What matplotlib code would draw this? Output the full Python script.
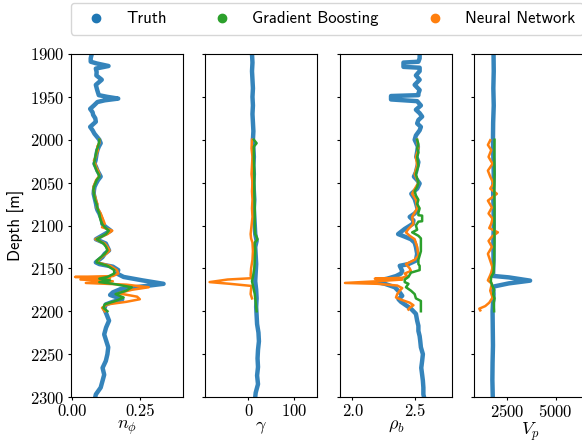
import matplotlib
matplotlib.use("Agg")
import matplotlib.pyplot as plt
from matplotlib.lines import Line2D
import numpy as np

plt.rcParams['mathtext.fontset'] = 'cm'
plt.rcParams['font.family'] = 'cmr10'
plt.rcParams['axes.formatter.use_mathtext'] = True
plt.rcParams['axes.unicode_minus'] = False

# ---- data ----
series_names = ['Truth', 'Gradient Boosting', 'Neural Network']
xlabels = [r'$n_\phi$', r'$\gamma$', r'$\rho_b$', r'$V_p$']
xticks = [[0.0, 0.25], [0, 100], [2.0, 2.5], [2500, 5000]]
xlims = [(-0.005, 0.41), (-94, 149), (1.9, 2.8), (820, 6550)]
depth_ticks = [1900, 1950, 2000, 2050, 2100, 2150, 2200, 2250, 2300]

# porosity n_phi
nphi_true_depth = [1900, 1905, 1909, 1911, 1914, 1917, 1921, 1925, 1930, 1936, 1942, 1948, 1950, 1952,
                   1954, 1956, 1960, 1964, 1968, 1971, 1975, 1979, 1985, 1989, 1993, 2000, 2004, 2008,
                   2012, 2016, 2020, 2024, 2028, 2032, 2036, 2040, 2043, 2047, 2051, 2055, 2059, 2063,
                   2067, 2071, 2075, 2079, 2082, 2086, 2090, 2094, 2098, 2102, 2106, 2110, 2116, 2121,
                   2125, 2129, 2133, 2137, 2141, 2143, 2145, 2148, 2152, 2156, 2160, 2164, 2168, 2171,
                   2174, 2178, 2181, 2186, 2189, 2192, 2197, 2203, 2211, 2219, 2227, 2235, 2242, 2250,
                   2258, 2266, 2274, 2281, 2289, 2297, 2300]
nphi_true = [0.072, 0.068, 0.068, 0.09, 0.134, 0.087, 0.09, 0.089, 0.109, 0.087, 0.092, 0.098, 0.13, 0.17,
             0.12, 0.093, 0.08, 0.066, 0.075, 0.077, 0.085, 0.087, 0.066, 0.075, 0.082, 0.100, 0.105, 0.098,
             0.093, 0.09, 0.088, 0.086, 0.082, 0.088, 0.093, 0.1, 0.105, 0.095, 0.088, 0.082, 0.08, 0.079,
             0.082, 0.085, 0.088, 0.09, 0.093, 0.1, 0.105, 0.11, 0.111, 0.125, 0.142, 0.12, 0.087, 0.124,
             0.13, 0.136, 0.12, 0.111, 0.095, 0.087, 0.10, 0.15, 0.17, 0.165, 0.19, 0.26, 0.338, 0.26,
             0.18, 0.15, 0.14, 0.185, 0.15, 0.124, 0.118, 0.126, 0.136, 0.125, 0.118, 0.126, 0.133, 0.13,
             0.124, 0.112, 0.118, 0.112, 0.105, 0.087, 0.085]
nphi_gb_depth = [2000, 2004, 2008, 2012, 2016, 2020, 2024, 2028, 2032, 2036, 2040, 2043, 2047, 2051, 2055,
                 2059, 2063, 2067, 2071, 2075, 2079, 2082, 2086, 2090, 2094, 2098, 2102, 2106, 2110, 2116,
                 2121, 2125, 2129, 2133, 2137, 2141, 2143, 2147, 2152, 2156, 2160, 2162, 2164, 2166, 2168,
                 2172, 2176, 2180, 2184, 2188, 2192, 2196, 2200]
nphi_gb = [0.10, 0.098, 0.095, 0.09, 0.088, 0.085, 0.083, 0.08, 0.085, 0.09, 0.097, 0.1, 0.09, 0.085, 0.08,
           0.078, 0.08, 0.082, 0.085, 0.09, 0.092, 0.095, 0.1, 0.102, 0.105, 0.11, 0.12, 0.135, 0.125, 0.09,
           0.115, 0.125, 0.13, 0.12, 0.105, 0.09, 0.09, 0.13, 0.155, 0.155, 0.13, 0.10, 0.14, 0.10, 0.15,
           0.22, 0.2, 0.16, 0.19, 0.16, 0.12, 0.115, 0.13]
nphi_nn_depth = [2000, 2004, 2008, 2012, 2016, 2020, 2024, 2028, 2032, 2036, 2040, 2043, 2047, 2051, 2055,
                 2059, 2063, 2067, 2071, 2075, 2079, 2082, 2086, 2090, 2094, 2098, 2102, 2106, 2110, 2116,
                 2121, 2125, 2129, 2133, 2137, 2141, 2143, 2147, 2152, 2156, 2159, 2160, 2161, 2163, 2165,
                 2167, 2169, 2172, 2175, 2179, 2183, 2186, 2189, 2192, 2196, 2200]
nphi_nn = [0.10, 0.1, 0.092, 0.095, 0.09, 0.087, 0.08, 0.085, 0.088, 0.095, 0.1, 0.098, 0.088, 0.083, 0.078,
           0.08, 0.08, 0.085, 0.088, 0.093, 0.09, 0.098, 0.105, 0.11, 0.115, 0.12, 0.11, 0.148, 0.13, 0.085,
           0.12, 0.13, 0.138, 0.125, 0.108, 0.095, 0.092, 0.14, 0.165, 0.17, 0.15, 0.01, 0.14, 0.03, 0.15,
           0.05, 0.2, 0.283, 0.22, 0.17, 0.24, 0.25, 0.2, 0.13, 0.11, 0.12]

# gamma ray
gamma_true_depth = [1900, 1910, 1920, 1930, 1940, 1950, 1960, 1970, 1980, 1990, 2000, 2010, 2020, 2030,
                    2040, 2050, 2060, 2070, 2080, 2090, 2100, 2110, 2118, 2125, 2135, 2145, 2155, 2165,
                    2175, 2185, 2195, 2205, 2215, 2225, 2235, 2245, 2255, 2265, 2275, 2285, 2295, 2300]
gamma_true = [8, 9, 8, 9, 10, 9, 10, 9, 10, 11, 10, 11, 12, 11, 12, 11, 12, 13, 12, 13, 14, 15, 18, 15,
              16, 17, 16, 15, 17, 18, 17, 18, 19, 22, 23, 21, 20, 21, 19, 21, 16, 15]
gamma_gb_depth = [2000, 2004, 2008, 2020, 2040, 2060, 2080, 2100, 2110, 2116, 2120, 2130, 2140, 2150,
                  2160, 2165, 2170, 2180, 2190, 2200]
gamma_gb = [12, 18, 12, 12, 13, 13, 14, 14, 15, 20, 14, 15, 14, 13, 10, 8, 10, 14, 16, 18]
gamma_nn_depth = [2000, 2010, 2020, 2030, 2040, 2050, 2060, 2070, 2080, 2090, 2100, 2110, 2115, 2120,
                  2130, 2140, 2150, 2158, 2161.5, 2163, 2166, 2168, 2170.5, 2174, 2180, 2185]
gamma_nn = [8, 7, 9, 8, 7, 9, 8, 9, 8, 9, 7, 5, 6, 9, 10, 9, 6, 5, 6, -45, -84, -40, 7, 6, 5, 8]

# bulk density rho_b
rho_true_depth = [1900, 1905, 1909, 1910, 1915, 1916, 1920, 1925, 1930, 1936, 1942, 1946, 1948, 1949,
                  1953, 1955, 1960, 1965, 1969, 1973, 1977, 1981, 1985, 1989, 1995, 2000, 2008, 2014,
                  2020, 2026, 2032, 2038, 2043, 2047, 2051, 2057, 2063, 2069, 2075, 2082, 2086, 2090,
                  2094, 2098, 2104, 2110, 2113, 2116, 2120, 2125, 2133, 2141, 2145, 2147, 2150, 2153,
                  2156, 2159, 2162, 2164, 2166, 2168, 2170, 2172, 2175, 2178, 2182, 2186, 2189, 2192,
                  2197, 2203, 2211, 2217, 2223, 2229, 2235, 2242, 2250, 2258, 2266, 2274, 2281, 2289,
                  2297, 2300]
rho_true = [2.54, 2.54, 2.53, 2.41, 2.41, 2.54, 2.54, 2.51, 2.54, 2.50, 2.54, 2.53, 2.53, 2.31,
            2.31, 2.52, 2.55, 2.51, 2.54, 2.56, 2.53, 2.52, 2.55, 2.54, 2.51, 2.50, 2.526, 2.52,
            2.513, 2.53, 2.52, 2.51, 2.494, 2.52, 2.54, 2.52, 2.473, 2.5, 2.513, 2.526, 2.5, 2.46,
            2.49, 2.486, 2.42, 2.367, 2.42, 2.47, 2.5, 2.51, 2.52, 2.51, 2.45, 2.38, 2.39, 2.40,
            2.39, 2.35, 2.28, 2.21, 2.2, 2.26, 2.3, 2.34, 2.36, 2.38, 2.40, 2.37, 2.39, 2.42,
            2.47, 2.51, 2.52, 2.53, 2.53, 2.54, 2.545, 2.55, 2.566, 2.56, 2.553, 2.56, 2.566, 2.57,
            2.57, 2.575]
rho_gb_depth = [2000, 2005, 2010, 2015, 2020, 2030, 2040, 2045, 2050, 2055, 2060, 2065, 2070, 2075, 2080,
                2085, 2088, 2088.5, 2095, 2095.5, 2100, 2105, 2108, 2112, 2115, 2130, 2135, 2140, 2145,
                2147, 2152, 2155, 2160, 2163, 2166, 2168, 2172, 2176, 2180, 2185, 2188, 2195, 2200]
rho_gb = [2.52, 2.53, 2.52, 2.53, 2.52, 2.53, 2.51, 2.52, 2.53, 2.52, 2.50, 2.51, 2.53, 2.52, 2.54,
          2.53, 2.53, 2.56, 2.56, 2.53, 2.51, 2.52, 2.48, 2.53, 2.55, 2.55, 2.54, 2.53, 2.53,
          2.54, 2.54, 2.47, 2.45, 2.42, 2.42, 2.45, 2.43, 2.47, 2.5, 2.51, 2.55, 2.55, 2.55]
rho_nn_depth = [2000, 2010, 2020, 2030, 2040, 2050, 2060, 2063, 2070, 2080, 2090, 2098, 2104, 2108, 2112,
                2116, 2125, 2135, 2140, 2145, 2150, 2153, 2156, 2159, 2161, 2162, 2163, 2165, 2167, 2168,
                2170, 2173, 2176, 2180, 2184, 2187, 2190, 2193, 2196, 2198]
rho_nn = [2.52, 2.53, 2.51, 2.52, 2.50, 2.53, 2.49, 2.48, 2.51, 2.52, 2.48, 2.49, 2.45, 2.43, 2.46,
          2.50, 2.52, 2.53, 2.50, 2.43, 2.46, 2.47, 2.42, 2.44, 2.40, 2.18, 2.40, 2.2, 1.94, 2.2,
          2.36, 2.40, 2.38, 2.36, 2.35, 2.4, 2.46, 2.49, 2.46, 2.45]

# P-wave velocity V_p
vp_true_depth = [1900, 1920, 1940, 1960, 1980, 2000, 2020, 2040, 2060, 2080, 2100, 2120, 2140, 2155,
                 2158.8, 2160.5, 2164.3, 2167.5, 2171.3, 2180, 2200, 2220, 2240, 2260, 2280, 2300]
vp_true = [1820, 1830, 1810, 1830, 1800, 1790, 1810, 1830, 1800, 1820, 1830, 1810, 1820, 1800,
           1790, 2600, 3690, 2600, 1800, 1820, 1770, 1780, 1790, 1770, 1760, 1780]
vp_gb_depth = [2000, 2020, 2040, 2060, 2080, 2100, 2120, 2140, 2155, 2160, 2165, 2170, 2175, 2180, 2185,
               2190, 2200]
vp_gb = [1870, 1860, 1870, 1860, 1870, 1860, 1870, 1850, 1820, 1700, 1680, 1750, 1850, 1800, 1870,
         1830, 1850]
vp_nn_depth = [2000.6, 2006, 2012, 2020, 2028, 2036, 2043, 2051, 2057, 2063, 2071, 2079, 2086, 2092, 2098,
               2103, 2108, 2113, 2118, 2125, 2133, 2141, 2149, 2155, 2158, 2164, 2168, 2176, 2184, 2190,
               2194, 2197, 2199]
vp_nn = [1650, 1531, 1701, 1565, 1769, 1531, 1650, 1820, 1650, 1990, 1531, 1735, 1565, 1769, 1701,
         1600, 2041, 1735, 1565, 1735, 1531, 1650, 1769, 1701, 1650, 1531, 1735, 1650, 1769, 1600,
         1395, 1089, 1140]

panels = [
    (nphi_true_depth, nphi_true, nphi_gb_depth, nphi_gb, nphi_nn_depth, nphi_nn),
    (gamma_true_depth, gamma_true, gamma_gb_depth, gamma_gb, gamma_nn_depth, gamma_nn),
    (rho_true_depth, rho_true, rho_gb_depth, rho_gb, rho_nn_depth, rho_nn),
    (vp_true_depth, vp_true, vp_gb_depth, vp_gb, vp_nn_depth, vp_nn),
]
colors = ['#1f77b4', '#2ca02c', '#ff7f0e']

fig = plt.figure(figsize=(5.82, 4.42), dpi=100)
W, H = 582, 442
lefts = [71, 205, 340, 474]
axes = []
for i, (td, tv, gd, gv, nd, nv) in enumerate(panels):
    ax = fig.add_axes([lefts[i] / W, 1 - 397 / H, 112 / W, 343 / H],
                      sharey=axes[0] if axes else None)
    ax.plot(tv, td, color=colors[0], lw=3.2, alpha=0.9, zorder=1)
    ax.plot(nv, nd, color=colors[2], lw=1.8, zorder=2)
    ax.plot(gv, gd, color=colors[1], lw=1.8, zorder=3)
    ax.set_xlim(*xlims[i])
    ax.set_xticks(xticks[i])
    ax.set_xlabel(xlabels[i], fontsize=13, labelpad=0)
    ax.tick_params(labelsize=12, length=2.5, pad=2)
    if i > 0:
        ax.tick_params(labelleft=False)
    axes.append(ax)

axes[0].xaxis.set_major_formatter(matplotlib.ticker.FormatStrFormatter('%.2f'))
axes[2].xaxis.set_major_formatter(matplotlib.ticker.FormatStrFormatter('%.1f'))
axes[0].set_yticks(depth_ticks)
axes[0].set_ylim(2300, 1900)
axes[0].set_ylabel('Depth [m]', fontsize=12, family='cmss10')

handles = [Line2D([], [], marker='o', linestyle='none', color=c, markersize=6) for c in colors]
fig.legend(handles, series_names, loc='upper left', bbox_to_anchor=(71 / W, 1 - 3 / H),
           ncol=3, borderaxespad=0, columnspacing=2.35, borderpad=0.5,
           prop={'family': 'cmss10', 'size': 12})

fig.savefig('out.png', dpi=100)
